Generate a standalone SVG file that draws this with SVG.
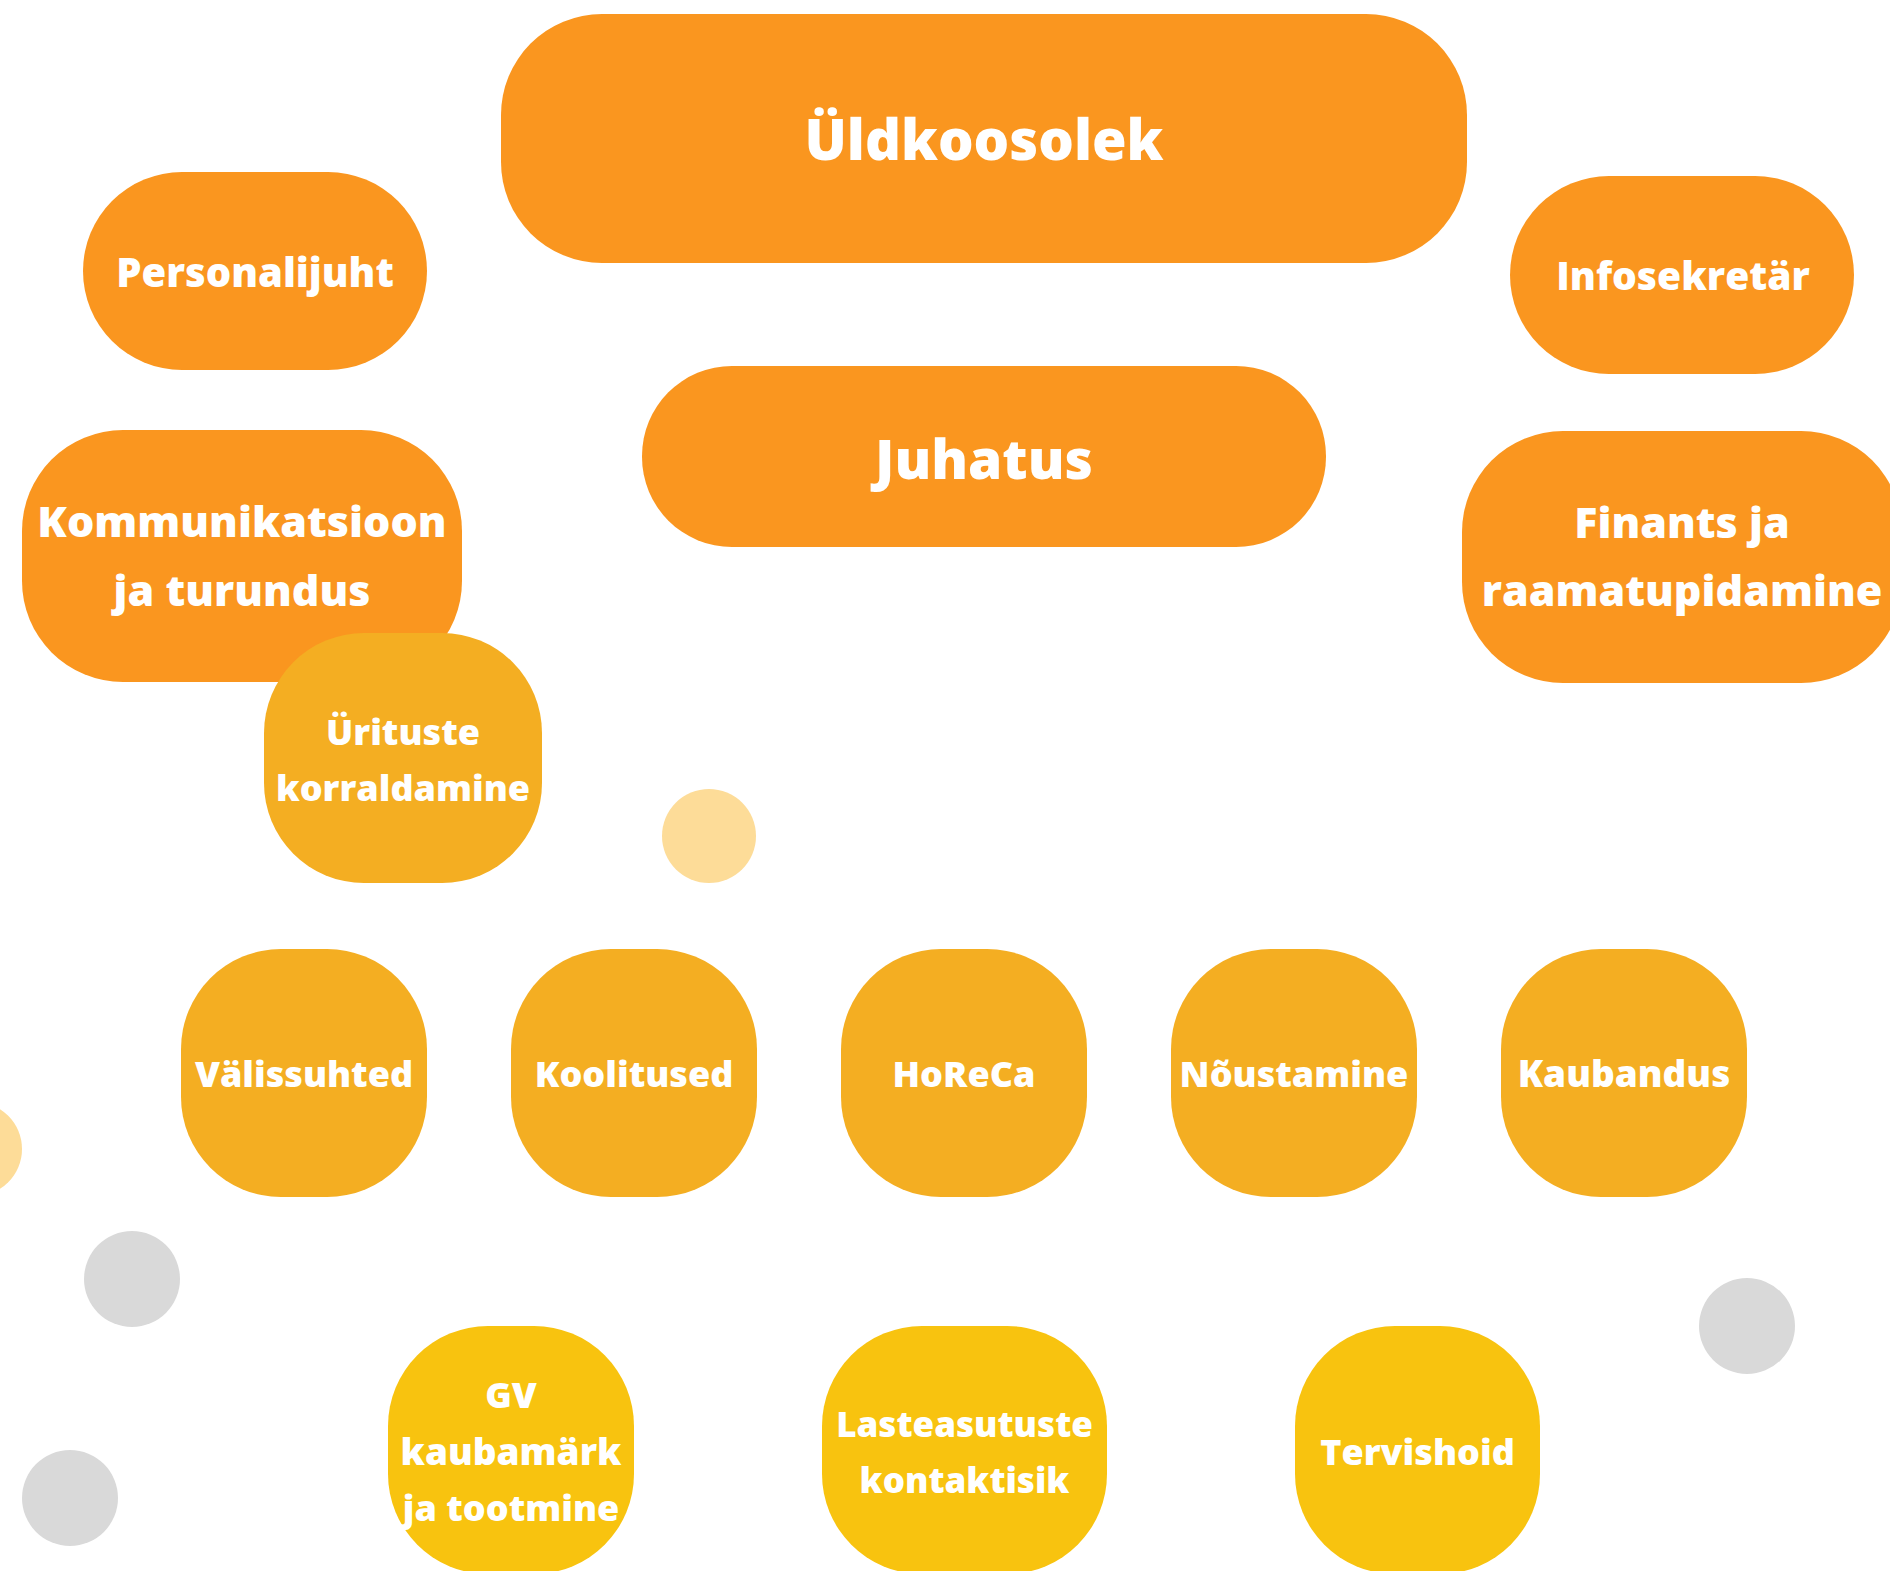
<svg xmlns="http://www.w3.org/2000/svg" width="1890" height="1571" viewBox="0 0 1890 1571">
<style>
.o{fill:#FA961F}
.m{fill:#F4AE22}
.y{fill:#F8C30F}
.lc{fill:#FDDC98}
.gc{fill:#D9D9D9}
text{fill:#FFFFFF;font-family:"Open Sans","Noto Sans","Liberation Sans",sans-serif;font-weight:800;text-anchor:middle}
.t56{font-size:56px}
.t55{font-size:55px}
.t43{font-size:43px}
.t40{font-size:40px}
.t36{font-size:36px}
</style>
<rect width="1890" height="1571" fill="#FFFFFF"/>
<g id="decor">
<circle class="lc" cx="709" cy="836" r="47"/>
<circle class="lc" cx="-25" cy="1149" r="47"/>
<circle class="gc" cx="132" cy="1279" r="48"/>
<circle class="gc" cx="70" cy="1498" r="48"/>
<circle class="gc" cx="1747" cy="1326" r="48"/>
</g>
<g id="connectors"></g>
<g id="n-uldkoosolek">
<rect class="o" x="501" y="14" width="966" height="249" rx="101"/>
<text class="t56" x="984" y="160">Üldkoosolek</text>
</g>
<g id="n-personalijuht">
<rect class="o" x="83" y="172" width="344" height="198" rx="99"/>
<text class="t40" x="255" y="287">Personalijuht</text>
</g>
<g id="n-infosekretar">
<rect class="o" x="1510" y="176" width="344" height="198" rx="99"/>
<text class="t40" x="1683" y="290" style="font-size:39px">Infosekretär</text>
</g>
<g id="n-juhatus">
<rect class="o" x="642" y="366" width="684" height="181" rx="90"/>
<text class="t55" x="984" y="479">Juhatus</text>
</g>
<g id="n-kommunikatsioon">
<rect class="o" x="22" y="430" width="440" height="252" rx="101"/>
<text class="t43" x="242" y="537">Kommunikatsioon</text>
<text class="t43" x="242" y="606">ja turundus</text>
</g>
<g id="n-finants">
<rect class="o" x="1462" y="431" width="440" height="252" rx="101"/>
<text class="t43" x="1682" y="538">Finants ja</text>
<text class="t43" x="1682" y="606">raamatupidamine</text>
</g>
<g id="n-uritused">
<rect class="m" x="264" y="633" width="278" height="250" rx="100"/>
<text class="t36" x="403" y="745">Ürituste</text>
<text class="t36" x="403" y="801">korraldamine</text>
</g>
<g id="n-valissuhted">
<rect class="m" x="181" y="949" width="246" height="248" rx="100"/>
<text class="t36" x="304" y="1087">Välissuhted</text>
</g>
<g id="n-koolitused">
<rect class="m" x="511" y="949" width="246" height="248" rx="100"/>
<text class="t36" x="634" y="1087">Koolitused</text>
</g>
<g id="n-horeca">
<rect class="m" x="841" y="949" width="246" height="248" rx="100"/>
<text class="t36" x="964" y="1087">HoReCa</text>
</g>
<g id="n-noustamine">
<rect class="m" x="1171" y="949" width="246" height="248" rx="100"/>
<text class="t36" x="1294" y="1087">Nõustamine</text>
</g>
<g id="n-kaubandus">
<rect class="m" x="1501" y="949" width="246" height="248" rx="100"/>
<text class="t36" x="1624" y="1087" style="font-size:37px">Kaubandus</text>
</g>
<g id="n-gv">
<rect class="y" x="388" y="1326" width="246" height="248" rx="100"/>
<text class="t36" x="511" y="1408">GV</text>
<text class="t36" x="511" y="1465" style="font-size:37px">kaubamärk</text>
<text class="t36" x="511" y="1521">ja tootmine</text>
</g>
<g id="n-lasteasutuste">
<rect class="y" x="822" y="1326" width="285" height="248" rx="100"/>
<text class="t36" x="964.500" y="1437" style="font-size:35px">Lasteasutuste</text>
<text class="t36" x="964.500" y="1493" style="font-size:35px">kontaktisik</text>
</g>
<g id="n-tervishoid">
<rect class="y" x="1295" y="1326" width="245" height="248" rx="100"/>
<text class="t36" x="1417.500" y="1465">Tervishoid</text>
</g>
</svg>
